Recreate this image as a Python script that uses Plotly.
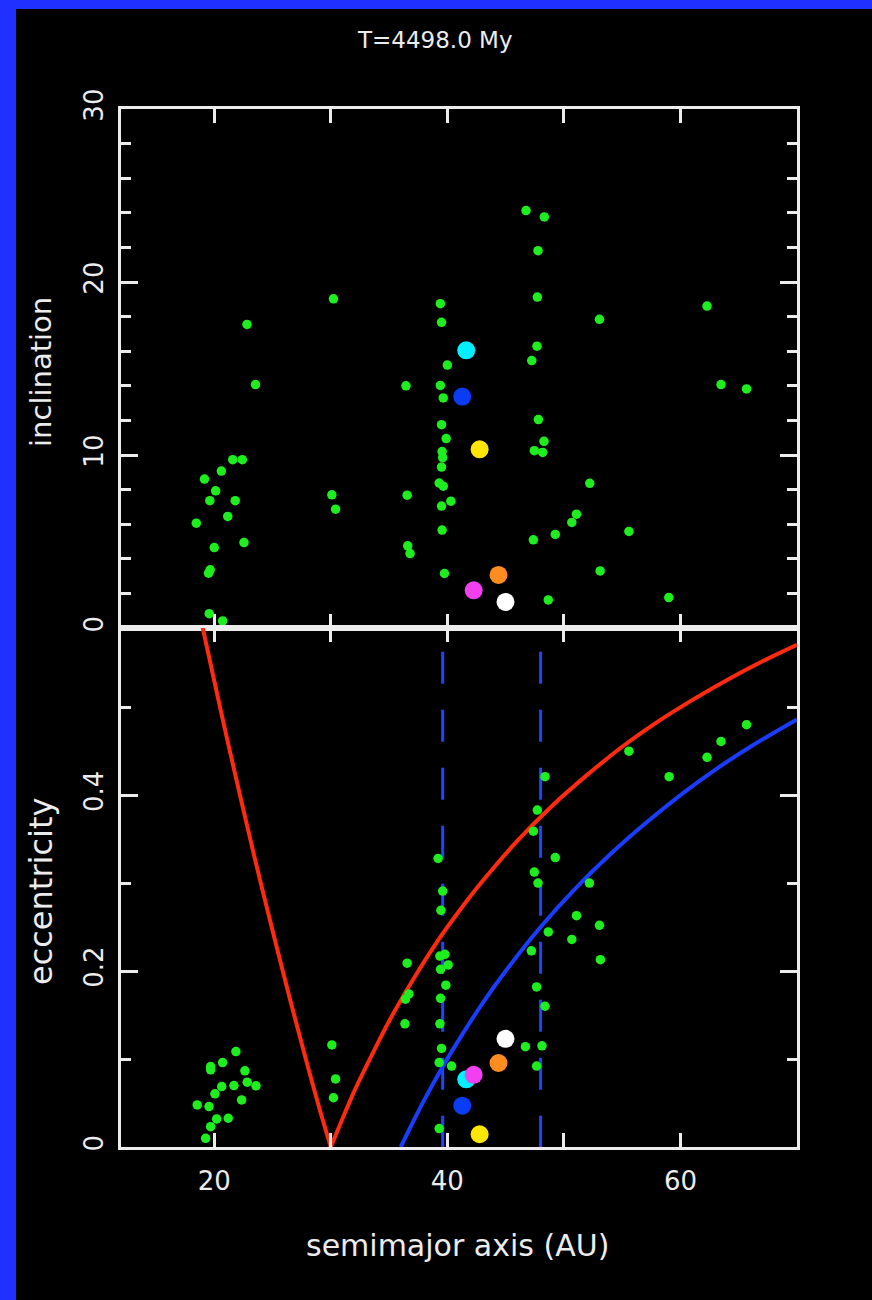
import plotly.graph_objects as go
from plotly.subplots import make_subplots

# ---------------- data ----------------
# top panel: semimajor axis (AU) vs inclination (deg) for the small green particles
top_a = [30.23, 39.4, 22.81, 39.5, 40.0, 23.54, 36.45, 39.4, 39.65, 39.5,
         39.9, 39.55, 39.6, 21.59, 22.41, 39.5, 20.61, 19.16, 39.3, 39.65,
         20.12, 30.09, 36.55, 19.62, 21.80, 40.3, 39.5, 30.41, 21.16, 18.46,
         39.55, 22.55, 20.0, 36.6, 36.8, 19.65, 19.51, 39.75, 19.57, 20.72,
         46.75, 48.32, 47.78, 47.72, 62.28, 53.05, 47.69, 47.24, 63.48, 65.67,
         47.81, 48.29, 47.46, 48.18, 52.22, 51.08, 50.68, 55.58, 49.26, 47.38,
         53.11, 48.66, 59.0]
top_inc = [19.03, 18.75, 17.55, 17.67, 15.2, 14.07, 14.0, 14.02, 13.3, 11.75,
           10.95, 10.2, 9.85, 9.73, 9.73, 9.3, 9.07, 8.61, 8.38, 8.2,
           7.93, 7.70, 7.68, 7.36, 7.36, 7.33, 7.05, 6.87, 6.45, 6.06,
           5.66, 4.94, 4.65, 4.75, 4.3, 3.36, 3.17, 3.15, 0.83, 0.41,
           24.13, 23.76, 21.81, 19.13, 18.61, 17.84, 16.29, 15.46, 14.07, 13.82,
           12.05, 10.79, 10.25, 10.15, 8.36, 6.58, 6.10, 5.58, 5.41, 5.10,
           3.30, 1.62, 1.76]

# bottom panel: semimajor axis (AU) vs eccentricity for the small green particles
bot_a = [21.86, 19.69, 19.69, 20.72, 22.63, 22.83, 23.58, 20.64, 21.69, 20.06,
         22.35, 18.54, 19.55, 20.21, 21.2, 19.69, 19.26,
         30.09, 30.41, 30.23,
         36.55, 36.4, 36.7, 36.36,
         39.21, 39.6, 39.45, 39.36, 39.79, 40.07, 39.42, 39.87, 39.42, 39.36,
         39.5, 39.3, 40.36, 39.3,
         48.38, 55.58, 59.03, 62.28, 63.48, 65.67, 47.72, 47.38, 49.26, 47.46,
         47.78, 52.19, 51.08, 53.05, 48.66, 50.68, 47.21, 53.13, 47.66, 48.38,
         46.70, 48.12, 47.66]
bot_ecc = [0.1085, 0.0915, 0.0877, 0.096, 0.0866, 0.0737, 0.0695, 0.0687, 0.0698, 0.0604,
           0.0535, 0.0478, 0.0459, 0.0319, 0.0327, 0.0231, 0.0099,
           0.116, 0.0774, 0.056,
           0.209, 0.168, 0.174, 0.140,
           0.328, 0.291, 0.269, 0.217, 0.219, 0.207, 0.202, 0.184, 0.169, 0.140,
           0.112, 0.096, 0.092, 0.021,
           0.421, 0.450, 0.421, 0.443, 0.461, 0.480, 0.383, 0.359, 0.329, 0.3125,
           0.300, 0.300, 0.263, 0.252, 0.2445, 0.236, 0.223, 0.213, 0.182, 0.160,
           0.114, 0.115, 0.092]

# highlighted large bodies
big_colors = ["#00f0ff", "#0a3cf5", "#ffe600", "#ff8c1e", "#ffffff", "#f040f0"]
big_a = [41.62, 41.28, 42.77, 44.39, 44.99, 42.26]
big_inc = [16.05, 13.38, 10.33, 3.07, 1.51, 2.18]
big_ecc = [0.077, 0.047, 0.0145, 0.0955, 0.123, 0.082]

# red curve (left and right branches)
red_left_a = [18.85, 20.0, 21.0, 22.0, 23.5, 25.0, 26.5, 28.0, 29.0, 30.0]
red_left_e = [0.600, 0.530, 0.470, 0.412, 0.327, 0.246, 0.168, 0.093, 0.045, 0.0]
red_right_a = [30.0, 31.0, 32.0, 33.5, 35.0, 37.0, 39.0, 41.0, 43.0, 46.0, 49.0, 52.0,
               55.0, 58.0, 61.0, 64.0, 67.0, 70.0]
red_right_e = [0.0, 0.032, 0.063, 0.104, 0.143, 0.189, 0.231, 0.268, 0.302, 0.348, 0.388, 0.423,
               0.455, 0.483, 0.508, 0.531, 0.552, 0.571]
# blue curve
blue_a = [36.0, 37.0, 38.0, 39.5, 41.0, 43.0, 45.0, 48.0, 51.0, 54.0, 57.0, 60.0, 63.0, 66.0, 70.0]
blue_e = [0.0, 0.027, 0.053, 0.089, 0.122, 0.163, 0.200, 0.250, 0.294, 0.333, 0.368, 0.400,
          0.429, 0.455, 0.486]
# dashed resonance locations
res_a = [39.6, 48.0]
res_e = [0.563, 0.0]

title_text = "T=4498.0 My"
x_title = "semimajor axis (AU)"
y1_title = "inclination"
y2_title = "eccentricity"
x_ticks = [20, 30, 40, 50, 60]
x_ticktext = ["20", "", "40", "", "60"]
y1_ticks = [0, 10, 20, 30]
y1_minor = [2, 4, 6, 8, 12, 14, 16, 18, 22, 24, 26, 28]
y2_ticks = [0, 0.2, 0.4]
y2_ticktext = ["0", "0.2", "0.4"]
y2_minor = [0.1, 0.3, 0.5]

# ---------------- figure ----------------
W, H = 872, 1300
ML, MR, MT, MB = 121, 75, 109, 153
FONT = "DejaVu Sans"
FG = "#ececec"
GREEN = "#1eee1e"

fig = make_subplots(rows=2, cols=1, shared_xaxes=True, vertical_spacing=0)

fig.add_trace(go.Scatter(x=top_a, y=top_inc, mode="markers",
                         marker=dict(color=GREEN, size=9.5, line=dict(width=0)),
                         showlegend=False), row=1, col=1)
for c, a, i in zip(big_colors, big_a, big_inc):
    fig.add_trace(go.Scatter(x=[a], y=[i], mode="markers",
                             marker=dict(color=c, size=18, line=dict(width=0)),
                             showlegend=False), row=1, col=1)

for xa in res_a:
    fig.add_trace(go.Scatter(x=[xa, xa], y=res_e, mode="lines",
                             line=dict(color="#1e46ff", width=3, dash="32px,26px"),
                             showlegend=False), row=2, col=1)
fig.add_trace(go.Scatter(x=red_left_a, y=red_left_e, mode="lines", line_shape="spline",
                         line=dict(color="#ff2a10", width=4, smoothing=0.8),
                         showlegend=False), row=2, col=1)
fig.add_trace(go.Scatter(x=red_right_a, y=red_right_e, mode="lines", line_shape="spline",
                         line=dict(color="#ff2a10", width=4, smoothing=1.0),
                         showlegend=False), row=2, col=1)
fig.add_trace(go.Scatter(x=blue_a, y=blue_e, mode="lines", line_shape="spline",
                         line=dict(color="#1a3cff", width=4, smoothing=1.0),
                         showlegend=False), row=2, col=1)
fig.add_trace(go.Scatter(x=bot_a, y=bot_ecc, mode="markers",
                         marker=dict(color=GREEN, size=9.5, line=dict(width=0)),
                         showlegend=False), row=2, col=1)
for c, a, e in zip(big_colors, big_a, big_ecc):
    fig.add_trace(go.Scatter(x=[a], y=[e], mode="markers",
                             marker=dict(color=c, size=18, line=dict(width=0)),
                             showlegend=False), row=2, col=1)

axis_common = dict(showline=True, linecolor=FG, linewidth=3, mirror="allticks",
                   ticks="inside", tickcolor=FG, tickwidth=3, showgrid=False,
                   zeroline=False, tickfont=dict(family=FONT, size=26, color=FG))

fig.update_xaxes(range=[12, 70], tickmode="array", tickvals=x_ticks, ticktext=x_ticktext,
                 ticklen=14, **axis_common)
fig.update_xaxes(showticklabels=False, row=1, col=1)
fig.update_xaxes(showticklabels=True, ticklabelstandoff=9, row=2, col=1)

fig.update_yaxes(range=[0, 30], tickmode="array", tickvals=y1_ticks, ticklen=17,
                 tickangle=-90, ticklabelstandoff=5,
                 minor=dict(tickmode="array", tickvals=y1_minor, ticks="inside",
                            ticklen=10, tickwidth=3, tickcolor=FG),
                 row=1, col=1, **axis_common)
fig.update_yaxes(range=[0, 0.59], tickmode="array", tickvals=y2_ticks, ticktext=y2_ticktext,
                 ticklen=17, tickangle=-90, ticklabelstandoff=5,
                 minor=dict(tickmode="array", tickvals=y2_minor, ticks="inside",
                            ticklen=10, tickwidth=3, tickcolor=FG),
                 row=2, col=1, **axis_common)

pw = W - ML - MR
ph = H - MT - MB


def px(x):
    return (x - ML) / pw


def py(y):
    return (H - MB - y) / ph


BORDER = "#1f30ff"
fig.add_shape(type="rect", xref="paper", yref="paper", x0=px(0), x1=px(16), y0=py(H), y1=py(0),
              fillcolor=BORDER, line=dict(width=0), layer="below")
fig.add_shape(type="rect", xref="paper", yref="paper", x0=px(0), x1=px(W), y0=py(9), y1=py(0),
              fillcolor=BORDER, line=dict(width=0), layer="below")

ann_font = dict(family=FONT, color=FG)
fig.add_annotation(text=title_text, xref="paper", yref="paper", x=px(435), y=py(40),
                   showarrow=False, xanchor="center", yanchor="middle",
                   font=dict(size=23, **ann_font))
fig.add_annotation(text=x_title, xref="paper", yref="paper", x=px(457), y=py(1245),
                   showarrow=False, xanchor="center", yanchor="middle",
                   font=dict(size=30, **ann_font))
fig.add_annotation(text=y1_title, xref="paper", yref="paper", x=px(41), y=py(372),
                   showarrow=False, xanchor="center", yanchor="middle", textangle=-90,
                   font=dict(size=29, **ann_font))
fig.add_annotation(text=y2_title, xref="paper", yref="paper", x=px(41), y=py(892),
                   showarrow=False, xanchor="center", yanchor="middle", textangle=-90,
                   font=dict(size=32, **ann_font))

fig.update_layout(width=W, height=H, margin=dict(l=ML, r=MR, t=MT, b=MB, pad=0),
                  paper_bgcolor="#000000", plot_bgcolor="#000000",
                  font=dict(family=FONT, color=FG), showlegend=False)

fig.write_html("out.html", config={"displayModeBar": False},
               post_script="document.body.style.margin='0px';document.body.style.background='#000000';")
